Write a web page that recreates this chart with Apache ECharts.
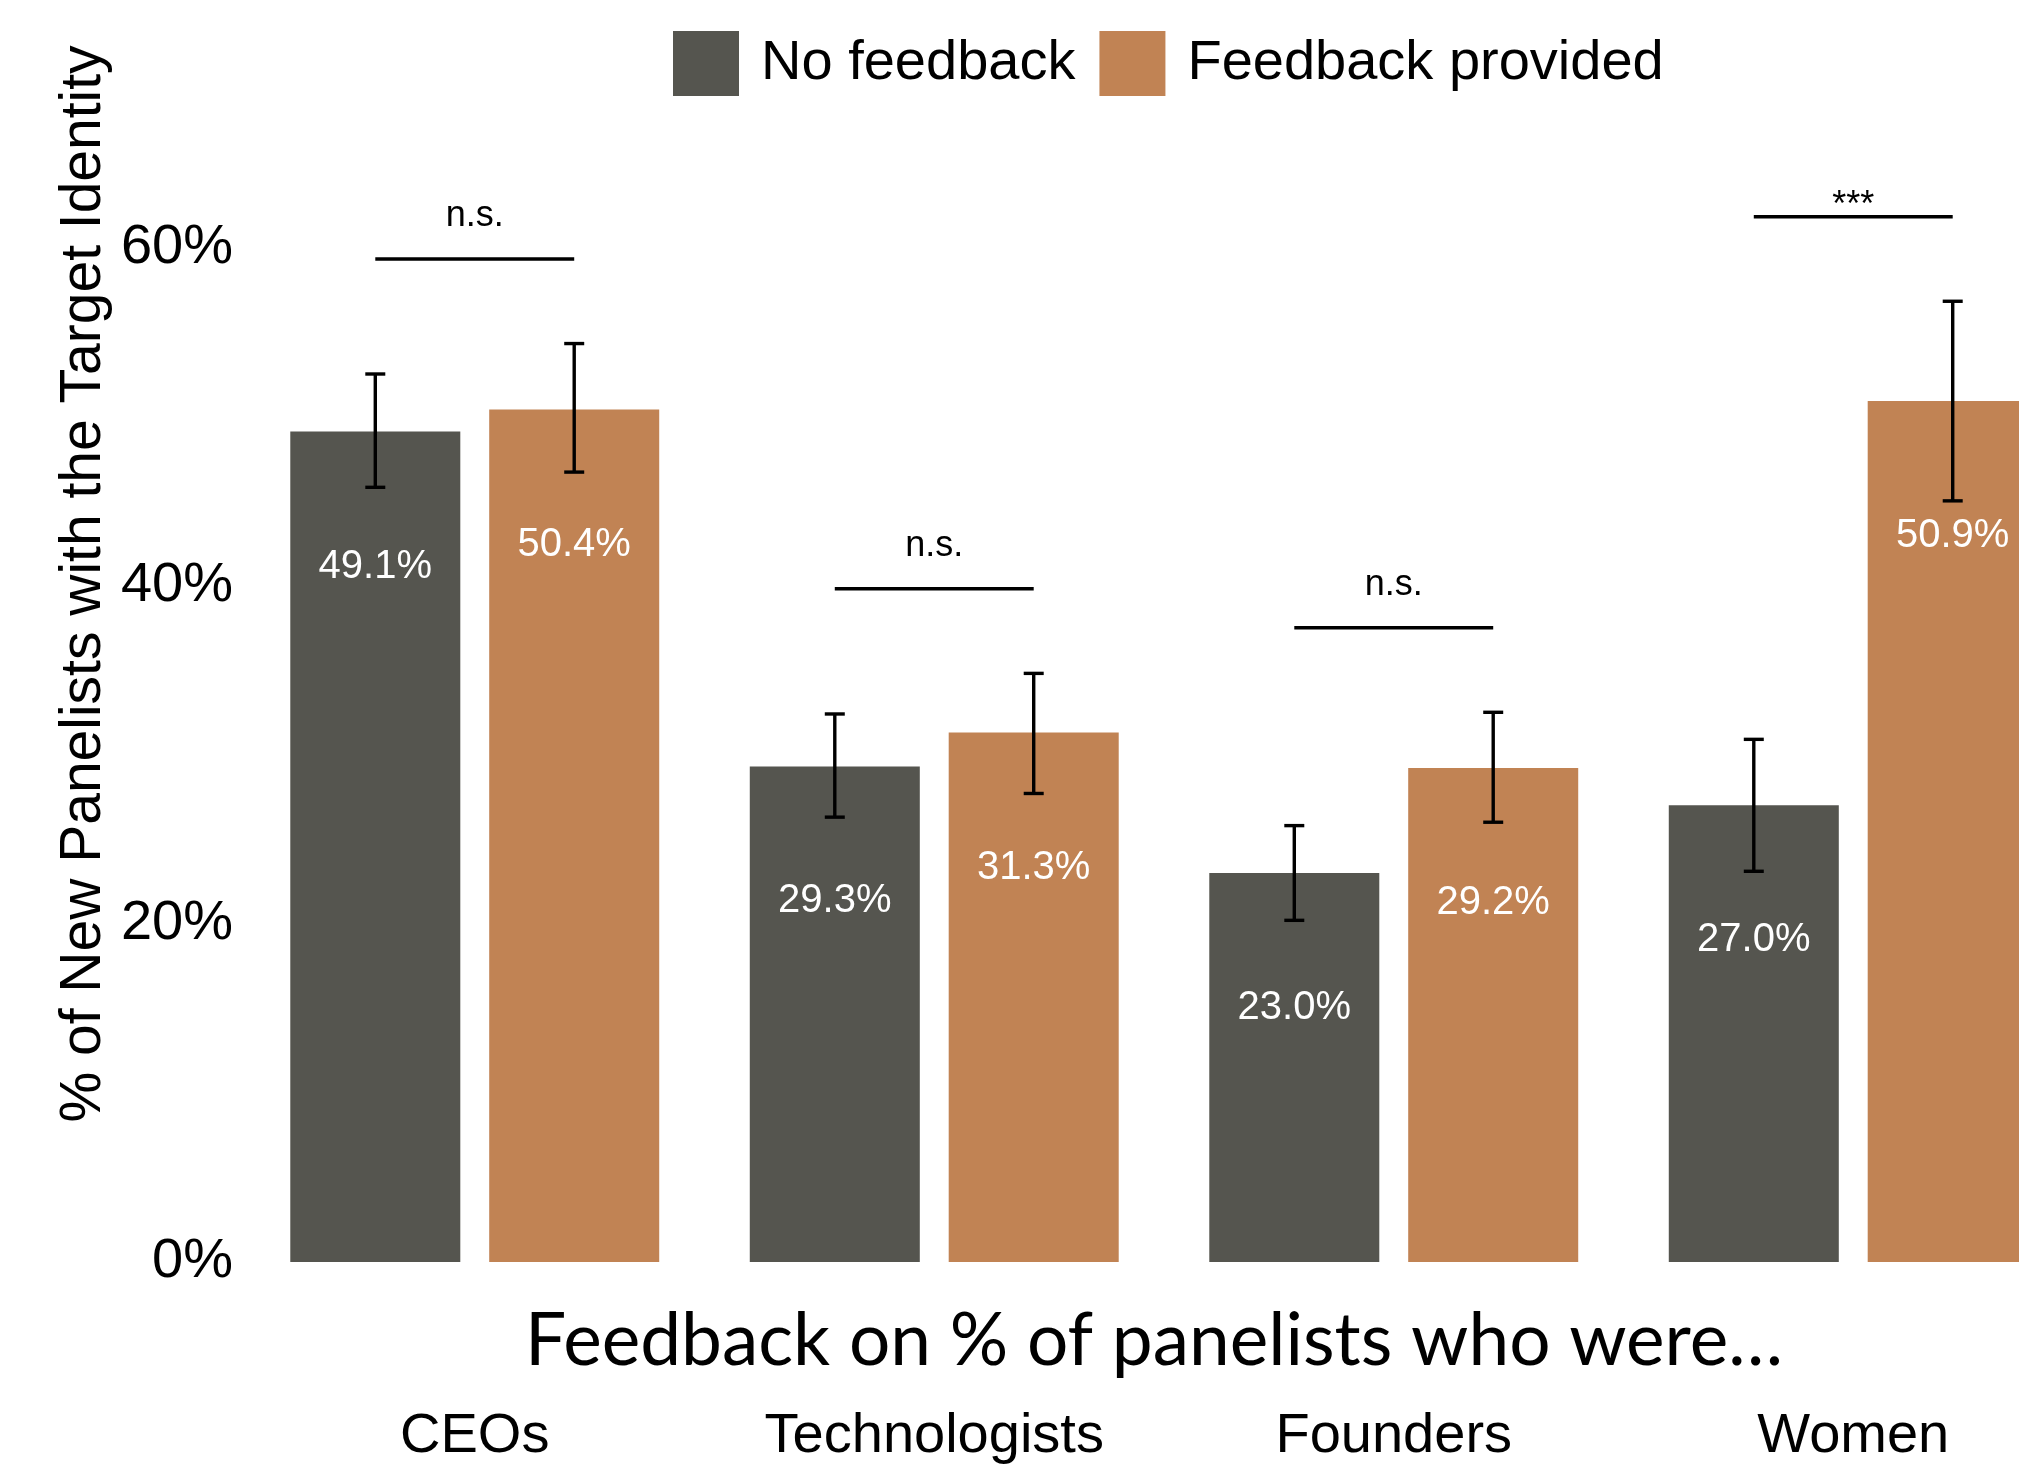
<!DOCTYPE html>
<html>
<head>
<meta charset="utf-8">
<script src="https://cdn.jsdelivr.net/npm/echarts@6/dist/echarts.min.js"></script>
<style>
  html, body { margin: 0; padding: 0; background: #ffffff; }
  #chart { width: 2019px; height: 1468px; }
</style>
</head>
<body>
<div id="chart"></div>
<script>
// Share of new panelists holding the target identity, by feedback condition
const categories = ['CEOs', 'Technologists', 'Founders', 'Women'];
const seriesNames = ['No feedback', 'Feedback provided'];

const noFeedback = [49.1, 29.3, 23.0, 27.0];
const feedbackProvided = [50.4, 31.3, 29.2, 50.9];

// confidence interval bounds (percent)
const noFeedbackLow = [45.8, 26.3, 20.2, 23.1];
const noFeedbackHigh = [52.5, 32.4, 25.8, 30.9];
const feedbackLow = [46.7, 27.7, 26.0, 45.0];
const feedbackHigh = [54.3, 34.8, 32.5, 56.8];

// significance brackets: level (percent) and label
const sigLevel = [59.3, 39.8, 37.5, 61.8];
const sigLabel = ['n.s.', 'n.s.', 'n.s.', '***'];

const yTicks = [0, 20, 40, 60];

const DARK = '#55554f';
const ORANGE = '#c18354';
const SANS = '"Liberation Sans", Arial, sans-serif';

// bar layout shared by the bars and the overlays
const BAR_W = 0.37;   // fraction of category band
const BAR_GAP = 0.17; // fraction of bar width
const groupW = BAR_W * 2 + BAR_W * BAR_GAP;
const centerOffset = -groupW / 2 + BAR_W / 2; // dark bar center, in band units

function errorBarSeries(name, low, high, sign) {
  return {
    type: 'custom',
    name: name + ' CI',
    z: 5,
    silent: true,
    clip: false,
    data: categories.map((c, i) => [i, low[i], high[i]]),
    encode: { x: 0, y: [1, 2] },
    renderItem: function (params, api) {
      const cat = api.value(0);
      const lo = api.coord([cat, api.value(1)]);
      const hi = api.coord([cat, api.value(2)]);
      const band = api.size([1, 0])[0];
      const x = lo[0] + sign * band * centerOffset;
      const cap = 10;
      const st = { stroke: '#000', lineWidth: 3.4 };
      return {
        type: 'group',
        children: [
          { type: 'line', shape: { x1: x, y1: lo[1], x2: x, y2: hi[1] }, style: st },
          { type: 'line', shape: { x1: x - cap, y1: hi[1], x2: x + cap, y2: hi[1] }, style: st },
          { type: 'line', shape: { x1: x - cap, y1: lo[1], x2: x + cap, y2: lo[1] }, style: st }
        ]
      };
    }
  };
}

const sigSeries = {
  type: 'custom',
  name: 'significance',
  z: 5,
  silent: true,
  clip: false,
  data: categories.map((c, i) => [i, sigLevel[i]]),
  encode: { x: 0, y: 1 },
  renderItem: function (params, api) {
    const cat = api.value(0);
    const p = api.coord([cat, api.value(1)]);
    const band = api.size([1, 0])[0];
    const x1 = p[0] + band * centerOffset;
    const x2 = p[0] - band * centerOffset;
    const label = sigLabel[params.dataIndex];
    const gap = label === '***' ? 11 : 43;
    return {
      type: 'group',
      children: [
        { type: 'line', shape: { x1: x1, y1: p[1], x2: x2, y2: p[1] },
          style: { stroke: '#000', lineWidth: 3.5 } },
        { type: 'text', x: p[0], y: p[1] - gap,
          style: { text: label, fill: '#000', fontSize: 36, fontFamily: SANS,
                   align: 'center', verticalAlign: 'middle' } }
      ]
    };
  }
};

const barLabel = {
  show: true,
  position: 'insideTop',
  distance: 115,
  color: '#ffffff',
  fontSize: 40,
  fontFamily: SANS,
  formatter: p => p.value.toFixed(1) + '%'
};

const chart = echarts.init(document.getElementById('chart'), null, { renderer: 'canvas' });

chart.setOption({
  backgroundColor: '#ffffff',
  animation: false,
  legend: {
    data: [
      { name: seriesNames[0], icon: 'rect' },
      { name: seriesNames[1], icon: 'rect' }
    ],
    left: 673,
    top: 31,
    itemWidth: 66,
    itemHeight: 65,
    itemGap: 24,
    padding: 0,
    textStyle: { fontSize: 56, fontFamily: SANS, color: '#000', padding: [8, 0, 0, 17] }
  },
  grid: {
    left: 245, right: -64, top: 78, bottom: 206,
    containLabel: false,
    outerBoundsMode: 'none'
  },
  xAxis: {
    type: 'category',
    data: categories,
    axisLine: { show: false },
    axisTick: { show: false },
    axisLabel: { margin: 147, fontSize: 56, fontFamily: SANS, color: '#000' },
    name: 'Feedback on % of panelists who were…',
    nameLocation: 'middle',
    nameGap: 43,
    nameMoveOverlap: false,
    nameTextStyle: { fontSize: 73, fontFamily: 'Lato, "Open Sans", sans-serif', color: '#000', padding: [0, 20, 0, 0] }
  },
  yAxis: {
    type: 'value',
    min: 0,
    max: 70,
    interval: 20,
    axisLine: { show: false },
    axisTick: { show: false },
    splitLine: { show: false },
    axisLabel: {
      margin: 12,
      fontSize: 56,
      fontFamily: SANS,
      color: '#000',
      padding: [14, 0, 0, 0],
      showMaxLabel: false,
      formatter: v => (yTicks.indexOf(v) >= 0 ? v + '%' : '')
    }
  },
  graphic: [
    {
      type: 'text',
      x: 84,
      y: 584,
      rotation: Math.PI / 2,
      style: {
        text: '% of New Panelists with the Target Identity',
        fill: '#000',
        fontSize: 57,
        fontFamily: SANS,
        align: 'center',
        verticalAlign: 'middle'
      }
    }
  ],
  series: [
    {
      name: seriesNames[0],
      type: 'bar',
      data: noFeedback,
      barWidth: (BAR_W * 100) + '%',
      barGap: (BAR_GAP * 100) + '%',
      itemStyle: { color: DARK },
      label: barLabel
    },
    {
      name: seriesNames[1],
      type: 'bar',
      data: feedbackProvided,
      barWidth: (BAR_W * 100) + '%',
      barGap: (BAR_GAP * 100) + '%',
      itemStyle: { color: ORANGE },
      label: barLabel
    },
    errorBarSeries(seriesNames[0], noFeedbackLow, noFeedbackHigh, 1),
    errorBarSeries(seriesNames[1], feedbackLow, feedbackHigh, -1),
    sigSeries
  ]
});
</script>
</body>
</html>
